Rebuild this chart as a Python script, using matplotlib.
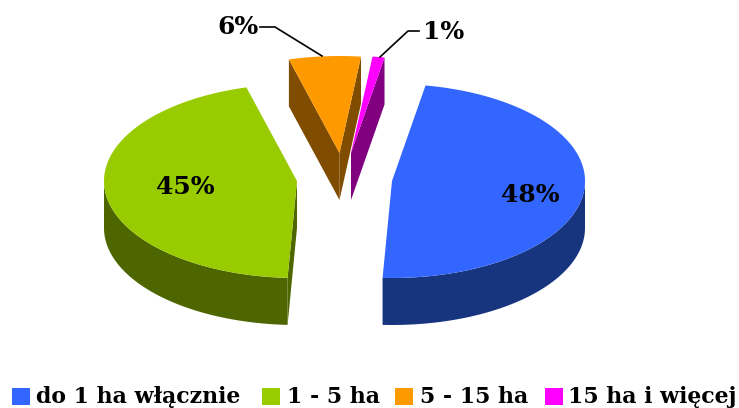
"""Exploded 3D style pie chart of farm sizes, drawn with flat polygons."""

import numpy as np
import matplotlib
matplotlib.use('Agg')
import matplotlib.pyplot as plt
from matplotlib.patches import Rectangle

categories = ['do 1 ha włącznie', '1 - 5 ha', '5 - 15 ha', '15 ha i więcej']
shares = [48, 45, 6, 1]
share_labels = ['48%', '45%', '6%', '1%']

top_colors = ['#3366FF', '#99CC00', '#FF9900', '#FF00FF']
side_colors = ['#17347F', '#4D6600', '#7F4C00', '#800080']

# Pixel layout of the picture
START_ANGLE = 10
RX = 193
RY = 97
DEPTH = 47
APEX_X = [392, 297, 339.5, 351]
APEX_Y = [181, 181, 153, 153]
LABEL_X = [530, 185, 238, 444]
LABEL_Y = [195, 187, 27, 32]
SWATCH_X = [12, 262, 395, 545]
LEGEND_TEXT_X = [36, 287, 420, 568]
LEADERS = [([260, 275, 322], [27, 27, 56]), ([419, 408, 380], [31, 31, 57])]

FONT = 'DejaVu Serif'


def rim(cx, cy, a, b):
    """Points of the elliptical rim between two clockwise angles from the top."""
    t = np.radians(np.linspace(a, b, max(int(abs(b - a)) * 2, 2)))
    return cx + RX * np.sin(t), cy - RY * np.cos(t)


def draw_wall(ax, cx, cy, angle, color):
    """Draw the flat cut face of a slice at one angle."""
    x, y = rim(cx, cy, angle, angle)
    xs = [cx, x[0], x[0], cx]
    ys = [cy, y[0], y[0] + DEPTH, cy + DEPTH]
    ax.fill(xs, ys, color=color, lw=0)


def draw_slice(ax, cx, cy, a, b, top, side):
    """Draw the visible walls and the top face of a slice."""
    if np.sin(np.radians(a)) < 0:
        draw_wall(ax, cx, cy, a, side)
    if np.sin(np.radians(b)) > 0:
        draw_wall(ax, cx, cy, b, side)

    # outer wall only shows on the front half of the ellipse
    lo, hi = max(a, 90), min(b, 270)
    if lo < hi:
        x, y = rim(cx, cy, lo, hi)
        ax.fill(np.r_[x, x[::-1]], np.r_[y, y[::-1] + DEPTH], color=side, lw=0)

    x, y = rim(cx, cy, a, b)
    ax.fill(np.r_[cx, x], np.r_[cy, y], color=top, lw=0)


def plot_chart():
    fig = plt.figure(figsize=(7.39, 4.08), dpi=100)
    ax = fig.add_axes([0, 0, 1, 1])
    ax.set_xlim(0, 739)
    ax.set_ylim(408, 0)
    ax.axis('off')

    edges = START_ANGLE + np.r_[0, np.cumsum(shares)] * 3.6
    for i in range(len(shares)):
        draw_slice(ax, APEX_X[i], APEX_Y[i], edges[i], edges[i + 1], top_colors[i], side_colors[i])

    for x, y in LEADERS:
        ax.plot(x, y, color='black', lw=1.2)

    for i, label in enumerate(share_labels):
        ax.text(LABEL_X[i], LABEL_Y[i], label, ha='center', va='center',
                family=FONT, weight='bold', fontsize=18)

    for i, name in enumerate(categories):
        ax.add_patch(Rectangle((SWATCH_X[i], 388), 17.5, 17, color=top_colors[i], lw=0))
        ax.text(LEGEND_TEXT_X[i], 403, name, ha='left', va='baseline',
                family=FONT, weight='bold', fontsize=15.8)

    fig.savefig('out.png', dpi=100)


plot_chart()
